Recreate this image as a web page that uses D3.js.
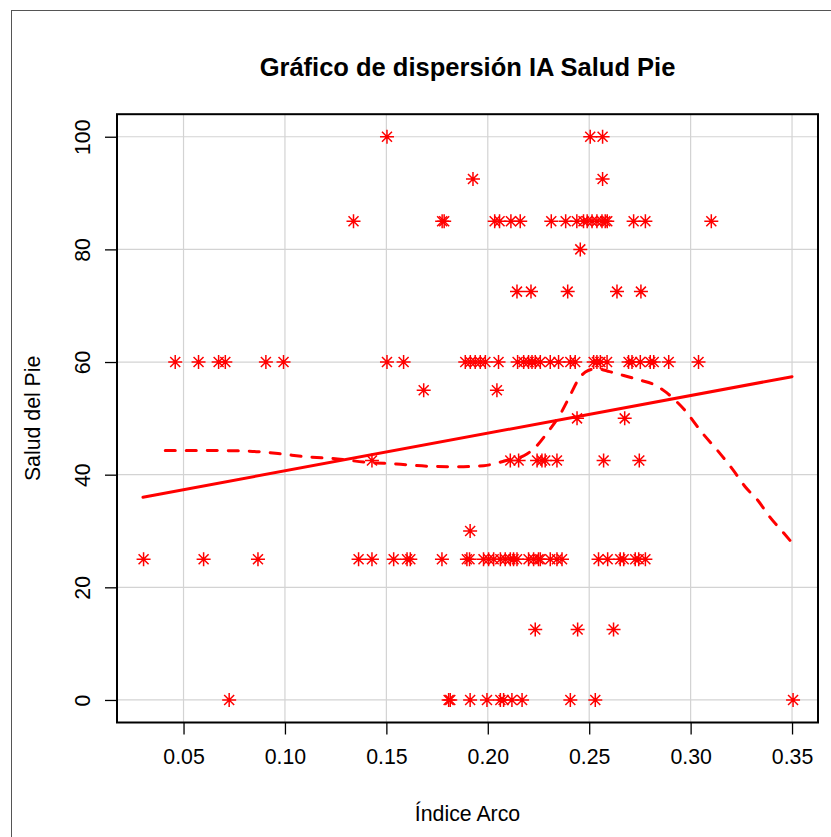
<!DOCTYPE html>
<html>
<head>
<meta charset="utf-8">
<script src="https://cdn.jsdelivr.net/npm/d3@7"></script>
<style>
  html, body { margin: 0; padding: 0; background: #fff; }
  svg text { font-family: "Liberation Sans", Arial, sans-serif; }
</style>
</head>
<body>
<svg id="chart" width="831" height="837"></svg>
<script>
// Índice Arco values for each Salud del Pie level
var s100 = [0.1503, 0.2505, 0.2566]
var s92_5 = [0.1927, 0.2566]
var s85 = [0.1338, 0.1775, 0.1785, 0.2034, 0.2058, 0.2114, 0.2160, 0.2313, 0.2384, 0.2439,
    0.2472, 0.2490, 0.2514, 0.2538, 0.2563, 0.2579, 0.2589, 0.2719, 0.2777, 0.3102]
var s80 = [0.2456]
var s72_5 = [0.2144, 0.2213, 0.2394, 0.2637, 0.2755]
var s60 = [0.0459, 0.0574, 0.0673, 0.0706, 0.0906, 0.0993, 0.1503, 0.1585, 0.1889, 0.1914,
    0.1938, 0.1963, 0.1988, 0.2053, 0.2147, 0.2177, 0.2201, 0.2218, 0.2234, 0.2259, 0.2308,
    0.2349, 0.2407, 0.2431, 0.2522, 0.2538, 0.2555, 0.2588, 0.2694, 0.2711, 0.2752, 0.2801,
    0.2818, 0.2892, 0.3039]
var s55 = [0.1684, 0.2045]
var s50 = [0.2440, 0.2675]
var s42_5 = [0.1429, 0.2111, 0.2152, 0.2243, 0.2267, 0.2283, 0.2341, 0.2571, 0.2747]
var s30 = [0.1913]
var s25 = [0.0303, 0.0599, 0.0867, 0.1363, 0.1429, 0.1536, 0.1602, 0.1618, 0.1774, 0.1897,
    0.1910, 0.1979, 0.2004, 0.2029, 0.2062, 0.2086, 0.2111, 0.2127, 0.2144, 0.2201, 0.2226,
    0.2250, 0.2259, 0.2308, 0.2341, 0.2366, 0.2546, 0.2591, 0.2653, 0.2670, 0.2727, 0.2744, 0.2777]
var s12_5 = [0.2234, 0.2443, 0.2620]
var s0 = [0.0725, 0.1807, 0.1815, 0.1913, 0.1996, 0.2062, 0.2078, 0.2119, 0.2169, 0.2407, 0.2530, 0.3505]

var levels = [100, 92.5, 85, 80, 72.5, 60, 55, 50, 42.5, 30, 25, 12.5, 0]
var groups = [s100, s92_5, s85, s80, s72_5, s60, s55, s50, s42_5, s30, s25, s12_5, s0]

// linear fit (solid) and lowess smooth (dashed)
var fitX = [0.03, 0.35]
var fitY = [36.0, 57.4]
var lowX = [0.041, 0.060, 0.080, 0.090, 0.100, 0.110, 0.126, 0.140, 0.155, 0.170, 0.185, 0.198,
    0.210, 0.218, 0.223, 0.229, 0.236, 0.2405, 0.2445, 0.2495, 0.254, 0.260, 0.267, 0.275,
    0.282, 0.288, 0.293, 0.297, 0.306, 0.313, 0.321, 0.327, 0.333, 0.339, 0.346, 0.350]
var lowY = [44.3, 44.3, 44.2, 44.0, 43.6, 43.2, 42.8, 42.2, 41.9, 41.5, 41.4, 41.6,
    42.6, 43.4, 44.7, 47.3, 50.9, 54.0, 56.8, 58.5, 58.8, 58.3, 57.6, 56.8,
    56.0, 54.6, 53.0, 51.5, 47.3, 44.4, 40.8, 37.8, 35.5, 32.5, 29.6, 27.9]

var xTicks = [0.05, 0.10, 0.15, 0.20, 0.25, 0.30, 0.35]
var yTicks = [0, 20, 40, 60, 80, 100]

var svg = d3.select("#chart"),
    margin = { top: 114.2, left: 117, bottom: 114.5, right: 13 },
    width = 831, height = 837;

var red = "#ff0000"

var x = d3.scaleLinear()
    .domain([0.0172, 0.3628])
    .range([margin.left, width - margin.right])

var y = d3.scaleLinear()
    .domain([-4, 104])
    .range([height - margin.bottom, margin.top])

// outer frame (cut by the picture edge)
svg.append("rect")
    .attr("x", 11.5).attr("y", 10.5)
    .attr("width", 900).attr("height", 900)
    .attr("fill", "none")
    .attr("stroke", "#555")
    .attr("stroke-width", 1)

// grid
svg.append("g").selectAll("line")
    .data(xTicks)
    .enter().append("line")
    .attr("x1", d => x(d)).attr("x2", d => x(d))
    .attr("y1", y.range()[0]).attr("y2", y.range()[1])
    .attr("stroke", "#d3d3d3").attr("stroke-width", 1.2)

svg.append("g").selectAll("line")
    .data(yTicks)
    .enter().append("line")
    .attr("x1", x.range()[0]).attr("x2", x.range()[1])
    .attr("y1", d => y(d)).attr("y2", d => y(d))
    .attr("stroke", "#d3d3d3").attr("stroke-width", 1.2)

// axes
var xAxis = svg.append("g")
    .attr("class", "x-axis")
    .attr("transform", `translate(0,${y.range()[0]})`)
    .call(d3.axisBottom(x).tickValues(xTicks).tickFormat(d3.format(".2f")).tickSize(12).tickPadding(14))

var yAxis = svg.append("g")
    .attr("class", "y-axis")
    .attr("transform", `translate(${x.range()[0]},0)`)
    .call(d3.axisLeft(y).tickValues(yTicks).tickSize(12).tickPadding(0))

svg.selectAll(".x-axis .domain, .y-axis .domain").remove()
svg.selectAll(".tick line").attr("stroke", "#000").attr("stroke-width", 1.3)
svg.selectAll(".tick text")
    .attr("font-size", 21.3)
    .attr("fill", "#000")
    .style("font-family", "'Liberation Sans', Arial, sans-serif")

yAxis.selectAll(".tick text")
    .attr("transform", "rotate(-90)")
    .attr("x", 0)
    .attr("y", -27)
    .attr("dy", 0)
    .attr("text-anchor", "middle")

// box
svg.append("rect")
    .attr("x", x.range()[0]).attr("y", y.range()[1])
    .attr("width", x.range()[1] - x.range()[0])
    .attr("height", y.range()[0] - y.range()[1])
    .attr("fill", "none")
    .attr("stroke", "#000")
    .attr("stroke-width", 2)

// points
var points = []
groups.forEach(function (g, i) {
    g.forEach(v => points.push({ x: v, y: levels[i] }))
})

var r1 = 7, r2 = 5
var star = `M${-r1},0H${r1}M0,${-r1}V${r1}M${-r2},${-r2}L${r2},${r2}M${-r2},${r2}L${r2},${-r2}`

svg.append("g").selectAll("path")
    .data(points)
    .enter().append("path")
    .attr("transform", d => `translate(${x(d.x)},${y(d.y)})`)
    .attr("d", star)
    .attr("fill", "none")
    .attr("stroke", red)
    .attr("stroke-width", 1.5)

// fit line
svg.append("path")
    .datum(d3.zip(fitX, fitY))
    .attr("d", d3.line().x(d => x(d[0])).y(d => y(d[1])))
    .attr("fill", "none")
    .attr("stroke", red)
    .attr("stroke-width", 3)
    .attr("stroke-linecap", "round")

// smooth
svg.append("path")
    .datum(d3.zip(lowX, lowY))
    .attr("d", d3.line().x(d => x(d[0])).y(d => y(d[1])).curve(d3.curveMonotoneX))
    .attr("fill", "none")
    .attr("stroke", red)
    .attr("stroke-width", 3)
    .attr("stroke-linecap", "round")
    .attr("stroke-dasharray", "10,11")

// titles
var cx = (x.range()[0] + x.range()[1]) / 2
svg.append("text")
    .attr("x", cx).attr("y", 76)
    .attr("text-anchor", "middle")
    .attr("font-size", 25.5)
    .attr("font-weight", "bold")
    .text("Gráfico de dispersión IA Salud Pie")

svg.append("text")
    .attr("x", cx).attr("y", 821)
    .attr("text-anchor", "middle")
    .attr("font-size", 21.3)
    .text("Índice Arco")

svg.append("text")
    .attr("transform", `translate(40,${(y.range()[0] + y.range()[1]) / 2}) rotate(-90)`)
    .attr("text-anchor", "middle")
    .attr("font-size", 21.3)
    .text("Salud del Pie")
</script>
</body>
</html>
